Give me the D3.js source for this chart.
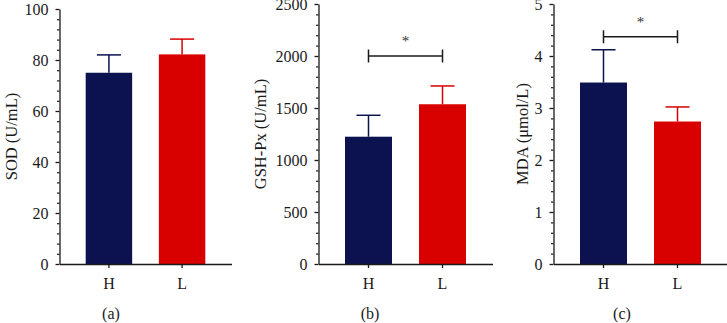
<!DOCTYPE html>
<html>
<head>
<meta charset="utf-8">
<script src="https://cdn.jsdelivr.net/npm/d3@7"></script>
<style>
  html, body { margin: 0; padding: 0; background: #fff; }
  svg { display: block; }
  text { font-family: "Liberation Serif", "Times New Roman", serif; fill: #1a1a1a; }
</style>
</head>
<body>
<div id="chart"></div>
<script>
// groups on the x axis
const groups = ['H', 'L'];

// SOD (U/mL): mean and SD
const sodMean = [75.0, 82.2];
const sodSd = [7.0, 6.0];

// GSH-Px (U/mL): mean and SD
const gshMean = [1224, 1536];
const gshSd = [206, 176];

// MDA (μmol/L): mean and SD
const mdaMean = [3.49, 2.74];
const mdaSd = [0.63, 0.28];

// significance brackets (null = none)
const sigLevel = [null, 2000, 4.37];

// y axis ticks
const sodTicks = [0, 20, 40, 60, 80, 100];
const gshTicks = [0, 500, 1000, 1500, 2000, 2500];
const mdaTicks = [0, 1, 2, 3, 4, 5];

const titles = ['SOD (U/mL)', 'GSH-Px (U/mL)', 'MDA (\u03bcmol/L)'];
const letters = ['(a)', '(b)', '(c)'];
const colors = ['#0c1250', '#d90000'];

const width = 727, height = 323;
const baseY = 264;

const svg = d3.select('#chart')
  .append('svg')
  .attr('width', width)
  .attr('height', height);

// layout of each panel: axis x, top y, plot width, title x, letter x
const panels = [
  { mean: sodMean, sd: sodSd, ticks: sodTicks, axisX: 59.5, top: 9, w: 172, titleX: 11, letterX: 111 },
  { mean: gshMean, sd: gshSd, ticks: gshTicks, axisX: 318.5, top: 4, w: 174, titleX: 260, letterX: 370 },
  { mean: mdaMean, sd: mdaSd, ticks: mdaTicks, axisX: 553.5, top: 4, w: 174, titleX: 522, letterX: 622 }
];

panels.forEach((p, i) => {
  const g = svg.append('g')
    .attr('transform', `translate(${p.axisX},0)`);

  const maxV = p.ticks[p.ticks.length - 1];
  const y = d3.scaleLinear().domain([0, maxV]).range([baseY, p.top]);
  const x = d3.scaleBand()
    .domain(groups)
    .range([0, p.w])
    .paddingInner(0.365)
    .paddingOuter(0.358);

  const data = groups.map((k, j) => ({ key: k, mean: p.mean[j], sd: p.sd[j], color: colors[j] }));

  // bars
  g.selectAll('.bar')
    .data(data)
    .enter()
    .append('rect')
    .attr('class', 'bar')
    .attr('x', d => x(d.key))
    .attr('width', x.bandwidth())
    .attr('y', d => y(d.mean))
    .attr('height', d => baseY - y(d.mean))
    .attr('fill', d => d.color);

  // error bars (upper only)
  const cap = 12;
  const err = g.selectAll('.err')
    .data(data)
    .enter()
    .append('g')
    .attr('class', 'err')
    .attr('stroke', d => d.color)
    .attr('stroke-width', 1.5);
  err.append('line')
    .attr('x1', d => x(d.key) + x.bandwidth() / 2)
    .attr('x2', d => x(d.key) + x.bandwidth() / 2)
    .attr('y1', d => y(d.mean))
    .attr('y2', d => y(d.mean + d.sd));
  err.append('line')
    .attr('x1', d => x(d.key) + x.bandwidth() / 2 - cap)
    .attr('x2', d => x(d.key) + x.bandwidth() / 2 + cap)
    .attr('y1', d => y(d.mean + d.sd))
    .attr('y2', d => y(d.mean + d.sd));

  // minor ticks
  const step = p.ticks[1] / 5;
  const minor = d3.range(0, maxV + step / 2, step).filter(v => !p.ticks.includes(+v.toFixed(6)));
  g.append('g')
    .call(d3.axisLeft(y).tickValues(minor).tickSize(2.5).tickFormat(''))
    .call(a => a.select('.domain').remove())
    .selectAll('line').attr('stroke', '#1a1a1a').attr('stroke-width', 1.2);

  // y axis
  const yAxis = g.append('g')
    .call(d3.axisLeft(y).tickValues(p.ticks).tickFormat(d3.format('d'))
      .tickSize(4).tickSizeOuter(0).tickPadding(7));
  yAxis.selectAll('text')
    .style('font-size', '16px')
    .style('font-family', '"Liberation Serif", serif')
    .style('fill', '#1a1a1a');
  yAxis.selectAll('line, path').attr('stroke', '#1a1a1a').attr('stroke-width', 1.3);

  // x axis
  const xAxis = g.append('g')
    .attr('transform', `translate(0,${baseY})`)
    .call(d3.axisBottom(x).tickSize(4).tickSizeOuter(0).tickPadding(10));
  xAxis.selectAll('text')
    .style('font-size', '16px')
    .style('font-family', '"Liberation Serif", serif')
    .style('fill', '#1a1a1a');
  xAxis.selectAll('line, path').attr('stroke', '#1a1a1a').attr('stroke-width', 1.3);

  // y axis title
  svg.append('text')
    .attr('transform', `translate(${p.titleX},${(baseY + p.top) / 2}) rotate(-90)`)
    .attr('text-anchor', 'middle')
    .attr('dy', '0.35em')
    .style('font-size', '16.5px')
    .text(titles[i]);

  // panel letter
  svg.append('text')
    .attr('x', p.letterX)
    .attr('y', 319)
    .attr('text-anchor', 'middle')
    .style('font-size', '16px')
    .text(letters[i]);

  // significance bracket
  if (sigLevel[i] != null) {
    const x1 = x(groups[0]) + x.bandwidth() / 2;
    const x2 = x(groups[1]) + x.bandwidth() / 2;
    const yy = y(sigLevel[i]);
    const b = g.append('g').attr('stroke', '#1a1a1a').attr('stroke-width', 1.5);
    b.append('line').attr('x1', x1).attr('x2', x2).attr('y1', yy).attr('y2', yy);
    b.append('line').attr('x1', x1).attr('x2', x1).attr('y1', yy - 6.5).attr('y2', yy + 6.5);
    b.append('line').attr('x1', x2).attr('x2', x2).attr('y1', yy - 6.5).attr('y2', yy + 6.5);
    g.append('text')
      .attr('x', (x1 + x2) / 2)
      .attr('y', yy - 10)
      .attr('text-anchor', 'middle')
      .style('font-size', '15px')
      .style('fill', '#333')
      .text('*');
  }
});
</script>
</body>
</html>
